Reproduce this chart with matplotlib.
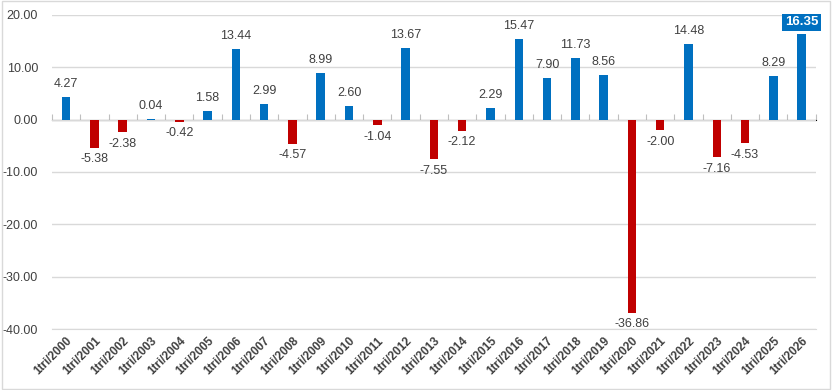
import numpy as np
import matplotlib
matplotlib.use("Agg")
from matplotlib import pyplot as plt

plt.rcParams["font.family"] = ["Liberation Sans", "DejaVu Sans"]

# Data
years = list(range(2000, 2027))
labels = ["1tri/{0}".format(y) for y in years]
values = [4.27, -5.38, -2.38, 0.04, -0.42, 1.58, 13.44, 2.99, -4.57, 8.99,
          2.60, -1.04, 13.67, -7.55, -2.12, 2.29, 15.47, 7.90, 11.73, 8.56,
          -36.86, -2.00, 14.48, -7.16, -4.53, 8.29, 16.35]

blue = "#0070C0"
red = "#C00000"
txt = "#404040"

fig = plt.figure(figsize=(8.32, 3.9), dpi=100)
ax = fig.add_axes([0.0625, 0.156, 0.918, 0.806])

x = np.arange(len(values))
cols = [blue if v >= 0 else red for v in values]
ax.bar(x, values, width=0.3, color=cols, zorder=3)

ymin, ymax = -40, 20
ax.set_ylim(ymin, ymax)
ax.set_xlim(-0.5, len(values) - 0.5)
ax.set_yticks(np.arange(ymin, ymax + 1, 10))
ax.set_yticklabels(["{0:.2f}".format(t) for t in np.arange(ymin, ymax + 1, 10)],
                   fontsize=9, color=txt)
ax.yaxis.grid(True, color="#d9d9d9", linewidth=1, zorder=0)
ax.tick_params(axis="y", length=0, pad=10)

ax.set_xticks(x)
ax.set_xticklabels(labels, rotation=45, ha="right", rotation_mode="anchor",
                   fontsize=8.5, fontweight="bold", color=txt)
ax.tick_params(axis="x", length=0, pad=4)

for s in ["top", "right", "left"]:
    ax.spines[s].set_visible(False)
ax.spines["bottom"].set_color("#d9d9d9")

# zero axis with category tick marks
zero_loc = (0 - ymin) / (ymax - ymin)
sec = ax.secondary_xaxis(zero_loc)
sec.set_xticks(np.arange(len(values) + 1) - 0.5)
sec.set_xticklabels([])
sec.tick_params(axis="x", direction="out", length=4, color="#bfbfbf")
sec.spines["bottom"].set_color("#bfbfbf")

# data labels
for i, v in enumerate(values):
    s = "{0:.2f}".format(v)
    if i == len(values) - 1:
        ax.annotate(s, (i, v), xytext=(0, 4), textcoords="offset points",
                    ha="center", va="bottom", fontsize=9.5, fontweight="bold",
                    color="white",
                    bbox=dict(boxstyle="square,pad=0.2", fc=blue, ec="none"))
    elif v >= 0:
        ax.annotate(s, (i, v), xytext=(0, 5), textcoords="offset points",
                    ha="center", va="bottom", fontsize=9, color=txt)
    else:
        ax.annotate(s, (i, v), xytext=(0, -4), textcoords="offset points",
                    ha="center", va="top", fontsize=9, color=txt)

# outer border
fig.patches.append(plt.Rectangle((0.002, 0.003), 0.996, 0.994, transform=fig.transFigure,
                                 fill=False, edgecolor="#d9d9d9", linewidth=1))

plt.savefig("out.png", dpi=100)
